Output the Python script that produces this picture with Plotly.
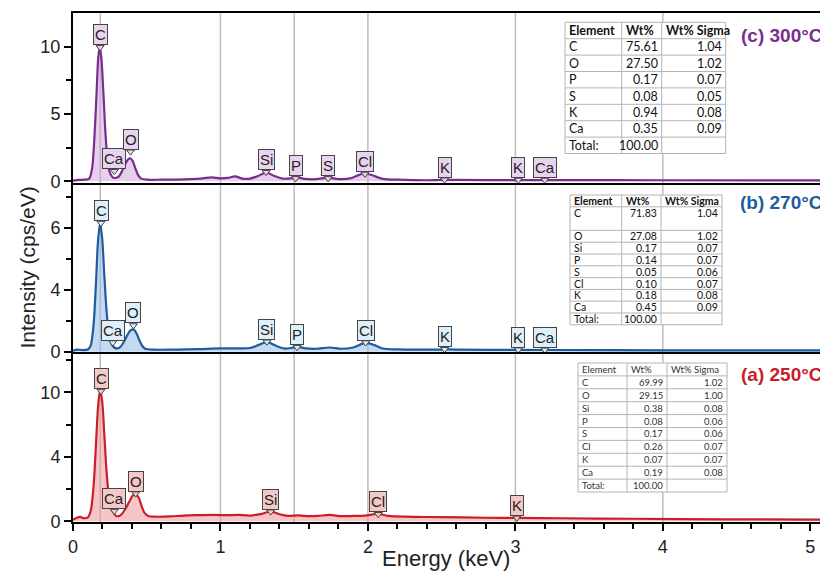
import plotly.graph_objects as go

# ---------------- data ----------------
# (c) 300 °C spectrum
energy_c = [0.00, 0.04, 0.08, 0.11, 0.13, 0.145, 0.16, 0.172, 0.182, 0.192, 0.205, 0.22, 0.235, 0.25,
            0.27, 0.29, 0.31, 0.33, 0.355, 0.375, 0.39, 0.405, 0.42, 0.44, 0.46, 0.50, 0.60, 0.70,
            0.80, 0.88, 0.94, 1.00, 1.05, 1.10, 1.15, 1.20, 1.26, 1.31, 1.36, 1.42, 1.48, 1.52, 1.57,
            1.65, 1.73, 1.80, 1.88, 1.94, 1.98, 2.03, 2.10, 2.20, 2.50, 2.52, 2.60, 3.00, 3.20, 4.00, 5.12]
counts_c = [0.05, 0.10, 0.12, 0.20, 1.0, 3.2, 6.6, 9.3, 9.95, 9.2, 6.8, 3.6, 1.5, 0.65,
            0.30, 0.25, 0.35, 0.70, 1.30, 1.65, 1.70, 1.50, 1.05, 0.50, 0.22, 0.12, 0.12, 0.13,
            0.16, 0.22, 0.30, 0.22, 0.25, 0.36, 0.20, 0.20, 0.42, 0.66, 0.42, 0.20, 0.22, 0.30, 0.18,
            0.16, 0.28, 0.17, 0.22, 0.48, 0.60, 0.45, 0.18, 0.12, 0.10, 0.12, 0.10, 0.09, 0.09, 0.08, 0.07]

# (b) 270 °C spectrum
energy_b = [0.00, 0.03, 0.06, 0.10, 0.12, 0.14, 0.155, 0.17, 0.184, 0.198, 0.212, 0.228, 0.245, 0.265,
            0.285, 0.30, 0.32, 0.345, 0.37, 0.39, 0.41, 0.43, 0.45, 0.47, 0.49, 0.55, 0.70, 0.85,
            1.00, 1.10, 1.20, 1.26, 1.315, 1.37, 1.43, 1.48, 1.52, 1.58, 1.65, 1.74, 1.82, 1.90,
            1.985, 2.04, 2.10, 2.20, 2.50, 2.52, 2.60, 3.02, 3.20, 4.00, 5.12]
counts_b = [0.08, 0.15, 0.12, 0.15, 0.40, 1.8, 4.3, 7.2, 8.3, 7.3, 5.0, 2.6, 1.1, 0.45,
            0.25, 0.22, 0.30, 0.65, 1.10, 1.38, 1.45, 1.20, 0.75, 0.38, 0.20, 0.14, 0.15, 0.18,
            0.22, 0.22, 0.25, 0.45, 0.65, 0.42, 0.22, 0.25, 0.33, 0.22, 0.20, 0.28, 0.20, 0.28,
            0.60, 0.45, 0.22, 0.16, 0.15, 0.17, 0.14, 0.13, 0.12, 0.10, 0.09]

# (a) 250 °C spectrum
energy_a = [0.00, 0.03, 0.05, 0.07, 0.10, 0.12, 0.14, 0.155, 0.17, 0.184, 0.198, 0.212, 0.228, 0.245,
            0.265, 0.29, 0.31, 0.33, 0.36, 0.385, 0.405, 0.424, 0.445, 0.465, 0.485, 0.51, 0.55,
            0.65, 0.75, 0.85, 0.95, 1.05, 1.12, 1.20, 1.28, 1.34, 1.40, 1.46, 1.53, 1.60, 1.66,
            1.74, 1.82, 1.90, 1.98, 2.07, 2.14, 2.25, 2.50, 2.80, 3.01, 3.30, 3.80, 4.40, 5.12]
counts_a = [0.12, 0.30, 0.35, 0.25, 0.30, 0.80, 2.8, 5.8, 8.9, 10.2, 9.3, 6.8, 3.8, 1.8,
            0.90, 0.45, 0.40, 0.55, 1.05, 1.60, 2.00, 2.12, 1.85, 1.20, 0.65, 0.42, 0.36,
            0.38, 0.45, 0.48, 0.50, 0.48, 0.50, 0.45, 0.58, 0.78, 0.55, 0.42, 0.46, 0.40, 0.42,
            0.50, 0.40, 0.42, 0.45, 0.58, 0.42, 0.36, 0.33, 0.28, 0.27, 0.24, 0.20, 0.16, 0.14]

# element markers: names, energies (keV), intensity the pointer touches
labels_c = ["C", "Ca", "O", "Si", "P", "S", "Cl", "K", "K", "Ca"]
label_e_c = [0.184, 0.28, 0.39, 1.31, 1.51, 1.73, 1.98, 2.52, 3.02, 3.20]
label_y_c = [9.95, 0.75, 2.2, 0.68, 0.22, 0.22, 0.55, 0.12, 0.10, 0.10]

labels_b = ["C", "Ca", "O", "Si", "P", "Cl", "K", "K", "Ca"]
label_e_b = [0.19, 0.27, 0.41, 1.315, 1.52, 1.985, 2.52, 3.02, 3.20]
label_y_b = [8.3, 0.6, 1.7, 0.65, 0.3, 0.6, 0.17, 0.14, 0.13]

labels_a = ["C", "Ca", "O", "Si", "Cl", "K"]
label_e_a = [0.19, 0.28, 0.425, 1.34, 2.07, 3.01]
label_y_a = [10.1, 0.8, 2.15, 0.75, 0.55, 0.27]

# reference lines (keV)
ref_lines = [0.185, 1.0, 1.5, 2.0, 3.0, 4.0]

# tick labels
x_ticks = [0, 1, 2, 3, 4, 5]
y_ticks_c, y_text_c, y_minor_c = [0, 5, 10], ["0", "5", "10"], [2.5, 7.5]
y_ticks_b, y_text_b, y_minor_b = [0, 4, 8], ["0", "4", "6"], [2, 6, 10]
y_ticks_a, y_text_a, y_minor_a = [0, 5, 10], ["0", "4", "10"], [2.5, 7.5, 12.5]

# composition tables
tab_header = ["Element", "Wt%", "Wt% Sigma"]
tab_c_el = ["C", "O", "P", "S", "K", "Ca", "Total:"]
tab_c_wt = ["75.61", "27.50", "0.17", "0.08", "0.94", "0.35", "100.00"]
tab_c_sg = ["1.04", "1.02", "0.07", "0.05", "0.08", "0.09", ""]

tab_b_el = ["C", "O", "Si", "P", "S", "Cl", "K", "Ca", "Total:"]
tab_b_wt = ["71.83", "27.08", "0.17", "0.14", "0.05", "0.10", "0.18", "0.45", "100.00"]
tab_b_sg = ["1.04", "1.02", "0.07", "0.07", "0.06", "0.07", "0.08", "0.09", ""]

tab_a_el = ["C", "O", "Si", "P", "S", "Cl", "K", "Ca", "Total:"]
tab_a_wt = ["69.99", "29.15", "0.38", "0.08", "0.17", "0.26", "0.07", "0.19", "100.00"]
tab_a_sg = ["1.02", "1.00", "0.08", "0.06", "0.06", "0.07", "0.07", "0.08", ""]

panel_titles = ["(c) 300°C", "(b) 270°C", "(a) 250°C"]

# ---------------- styling / layout ----------------
FONT = "Liberation Sans, Arial, sans-serif"
TFONT = "Lato, sans-serif"
# page body has an 8px margin: figure is drawn at (8, 8)
OFF = 8
ML, MT, PW, PH = 73, 13, 755, 509   # plot area in page pixels


def px(x):
    return (x - ML) / PW


def py(y):
    return 1 - (y - MT) / PH


panels = [
    dict(x=energy_c, y=counts_c, line="#7B2D8E", fill="rgba(205,160,215,0.5)", box="#E9D3EE",
         labs=labels_c, le=label_e_c, ly=label_y_c, xa="x", ya="y", tcol="#7B2D8E"),
    dict(x=energy_b, y=counts_b, line="#1F5C9E", fill="rgba(150,188,232,0.55)", box="#DDEFF8",
         labs=labels_b, le=label_e_b, ly=label_y_b, xa="x2", ya="y2", tcol="#1F5C9E"),
    dict(x=energy_a, y=counts_a, line="#C8202A", fill="rgba(240,150,150,0.55)", box="#F5C8C8",
         labs=labels_a, le=label_e_a, ly=label_y_a, xa="x3", ya="y3", tcol="#C8202A"),
]

fig = go.Figure()
annotations = []
shapes = []
for p in panels:
    fig.add_trace(go.Scatter(x=p["x"], y=p["y"], mode="lines", xaxis=p["xa"], yaxis=p["ya"],
                             line=dict(color=p["line"], width=2.2, shape="spline", smoothing=0.8),
                             fill="tozeroy", fillcolor=p["fill"], hoverinfo="skip", showlegend=False))
    fig.add_trace(go.Scatter(x=p["le"], y=p["ly"], mode="markers", xaxis=p["xa"], yaxis=p["ya"],
                             marker=dict(symbol="triangle-down", size=7, color=p["box"],
                                         line=dict(color="#444", width=1)),
                             hoverinfo="skip", showlegend=False))
    for name, e, yv in zip(p["labs"], p["le"], p["ly"]):
        annotations.append(dict(x=e, y=yv, xref=p["xa"], yref=p["ya"], text=name, showarrow=False,
                                xanchor="center", yanchor="bottom", yshift=2,
                                font=dict(family=FONT, size=15, color="#222"),
                                bgcolor=p["box"], bordercolor="#444", borderwidth=1, borderpad=1))

# reference lines
for v in ref_lines:
    shapes.append(dict(type="line", xref="x3", yref="paper", x0=v, x1=v, y0=0, y1=1,
                       line=dict(color="#bdbdbd", width=1.5), layer="below"))


# tables drawn from shapes + annotations
def draw_table(cols, left, top, colw, rowh, fsize, bold_header, color):
    n_rows = len(cols[0])
    total_w = sum(colw)
    total_h = sum(rowh)
    line = dict(color="#b4b4b4", width=1)
    shapes.append(dict(type="rect", xref="paper", yref="paper", x0=px(left), x1=px(left + total_w),
                       y0=py(top + total_h), y1=py(top), fillcolor="white", line=line, layer="above"))
    cx = left
    for w in colw[:-1]:
        cx += w
        shapes.append(dict(type="line", xref="paper", yref="paper", x0=px(cx), x1=px(cx),
                           y0=py(top + total_h), y1=py(top), line=line, layer="above"))
    cy = top
    for h in rowh[:-1]:
        cy += h
        shapes.append(dict(type="line", xref="paper", yref="paper", x0=px(left), x1=px(left + total_w),
                           y0=py(cy), y1=py(cy), line=line, layer="above"))
    cy = top
    for r in range(n_rows):
        h = rowh[r]
        ymid = cy + min(h, rowh[0]) / 2
        cx = left
        for c, w in enumerate(colw):
            txt = cols[c][r]
            if r == 0 and bold_header:
                txt = "<b>%s</b>" % txt
            right = (c > 0 and r > 0)
            annotations.append(dict(x=px(cx + w - 3) if right else px(cx + 3), y=py(ymid),
                                    xref="paper", yref="paper", text=txt, showarrow=False,
                                    xanchor="right" if right else "left", yanchor="middle",
                                    borderpad=0,
                                    font=dict(family=TFONT, size=fsize, color=color)))
            cx += w
        cy += h


draw_table([[tab_header[0]] + tab_c_el, [tab_header[1]] + tab_c_wt, [tab_header[2]] + tab_c_sg],
           565, 22.3, [56.7, 40, 64], [16.4] * 8, 12.5, True, "#111")
draw_table([[tab_header[0]] + tab_b_el, [tab_header[1]] + tab_b_wt, [tab_header[2]] + tab_b_sg],
           570, 195, [51.7, 39.3, 61], [11.8, 23.6] + [11.8] * 8, 10.5, True, "#111")
draw_table([[tab_header[0]] + tab_a_el, [tab_header[1]] + tab_a_wt, [tab_header[2]] + tab_a_sg],
           578, 363, [49, 40, 60], [12.9] * 10, 9.5, False, "#333")

# panel titles
for t, p, ypx in zip(panel_titles, panels, [35, 202, 374]):
    annotations.append(dict(x=px(824), y=py(ypx), xref="paper", yref="paper", text="<b>%s</b>" % t,
                            showarrow=False, xanchor="right", yanchor="middle", borderpad=0,
                            font=dict(family=FONT, size=19, color=p["tcol"])))

annotations.append(dict(x=px(27), y=0.5, xref="paper", yref="paper", text="Intensity (cps/eV)",
                        textangle=-90, showarrow=False, xanchor="center", yanchor="middle",
                        font=dict(family=FONT, size=21, color="#222")))
annotations.append(dict(x=px(446), y=py(558), xref="paper", yref="paper", text="Energy (keV)",
                        showarrow=False, xanchor="center", yanchor="middle",
                        font=dict(family=FONT, size=22, color="#222")))

xr = [0, 5.12]
common_x = dict(range=xr, showline=True, linecolor="black", linewidth=2, showgrid=False,
                zeroline=False, automargin=False)


def yax(dom, rng, tv, tt, mv, anchor):
    return dict(domain=dom, range=rng, tickvals=tv, ticktext=tt, ticks="outside", ticklen=7,
                tickwidth=2, tickcolor="black", showline=True, linecolor="black", linewidth=2,
                showgrid=False, zeroline=False, automargin=False, anchor=anchor,
                tickfont=dict(family=FONT, size=18, color="#222"),
                minor=dict(tickvals=mv, ticks="outside", ticklen=5, tickwidth=1.5, tickcolor="black"))


fig.update_layout(
    width=828 - OFF, height=571 - OFF,
    margin=dict(l=ML - OFF, r=0, t=MT - OFF, b=571 - MT - PH, pad=0),
    paper_bgcolor="white", plot_bgcolor="white",
    showlegend=False,
    xaxis=dict(common_x, anchor="y", matches="x3", showticklabels=False, ticks="", mirror=True),
    xaxis2=dict(common_x, anchor="y2", matches="x3", showticklabels=False, ticks=""),
    xaxis3=dict(common_x, anchor="y3", tickvals=x_ticks, ticks="outside", ticklen=7, tickwidth=2,
                tickcolor="black", tickfont=dict(family=FONT, size=18, color="#222"),
                minor=dict(dtick=0.2, ticks="outside", ticklen=5, tickwidth=1.5, tickcolor="black")),
    yaxis=yax([2 / 3, 1], [-0.1, 12.5], y_ticks_c, y_text_c, y_minor_c, "x"),
    yaxis2=yax([1 / 3, 2 / 3], [-0.03, 10.9], y_ticks_b, y_text_b, y_minor_b, "x2"),
    yaxis3=yax([0, 1 / 3], [-0.05, 13.1], y_ticks_a, y_text_a, y_minor_a, "x3"),
    annotations=annotations,
    shapes=shapes,
)

fig.write_html("out.html")
